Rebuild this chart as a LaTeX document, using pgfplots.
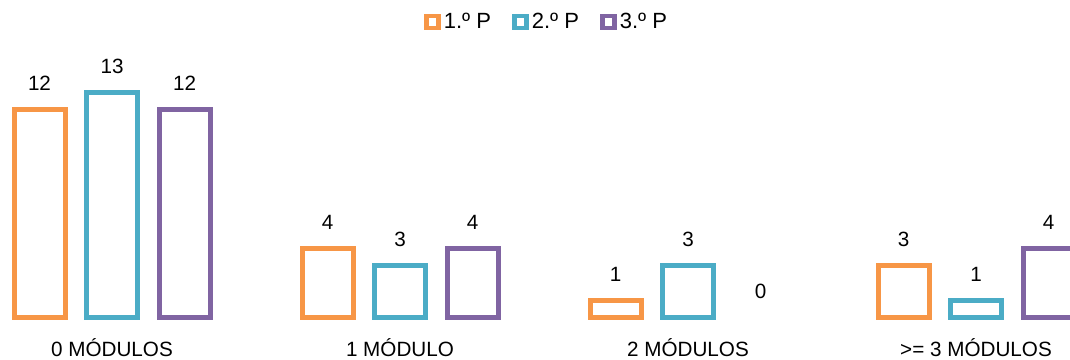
\documentclass[border=0pt]{standalone}
\usepackage{pgfplots}
\pgfplotsset{compat=1.18}
\usepackage{fontspec}
\setmainfont{Liberation Sans}
\definecolor{c1}{HTML}{F79646}
\definecolor{c2}{HTML}{4BACC6}
\definecolor{c3}{HTML}{8064A2}
\newcommand\lblfont{\fontsize{15.5}{18}\selectfont}

\begin{document}
\begin{tikzpicture}
\begin{axis}[
  scale only axis, width=802.5pt, height=240pt,
  xmin=-0.3889, xmax=3.3264, ymin=-0.1445, ymax=18.353,
  ybar, bar width=38.25pt,
  axis line style={draw=none}, ytick=\empty,
  xtick={0,1,2,3},
  xticklabels={0 MÓDULOS,1 MÓDULO,2 MÓDULOS,>= 3 MÓDULOS},
  major tick length=0pt,
  /pgf/number format/assume math mode=true,
  xticklabel style={anchor=base, yshift=-27.3pt, font=\lblfont},
  nodes near coords,
  nodes near coords style={anchor=south, inner sep=0pt, yshift=12.5pt,
    font=\lblfont, text=black},
  every axis plot/.append style={line width=3.75pt},
  legend style={draw=none, at={(0.5,1)}, anchor=center, yshift=-16.5pt,
    xshift=9pt, legend columns=3, font=\fontsize{16.5}{19}\selectfont,
    /tikz/every even column/.append style={column sep=14pt}},
  legend image code/.code={\draw[#1, line width=3.6pt, fill=white]
    (0pt,-4.5pt) rectangle (9pt,4.5pt);},
]
\addplot[draw=c1, fill=white, bar shift=-54.375pt]
  coordinates {(0,12) (1,4) (2,1) (3,3)};
\addplot[draw=c2, fill=white, bar shift=0pt]
  coordinates {(0,13) (1,3) (2,3) (3,1)};
\addplot[draw=c3, fill=white, bar shift=54.375pt]
  coordinates {(0,12) (1,4) (3,4)};
\addplot[draw=none, bar shift=54.375pt, forget plot]
  coordinates {(2,0)};
\legend{1.º P,2.º P,3.º P}
\end{axis}
\pgfresetboundingbox
\path (current axis.south west) ++(0,-30pt) rectangle (current axis.north east);
\end{tikzpicture}
\end{document}
